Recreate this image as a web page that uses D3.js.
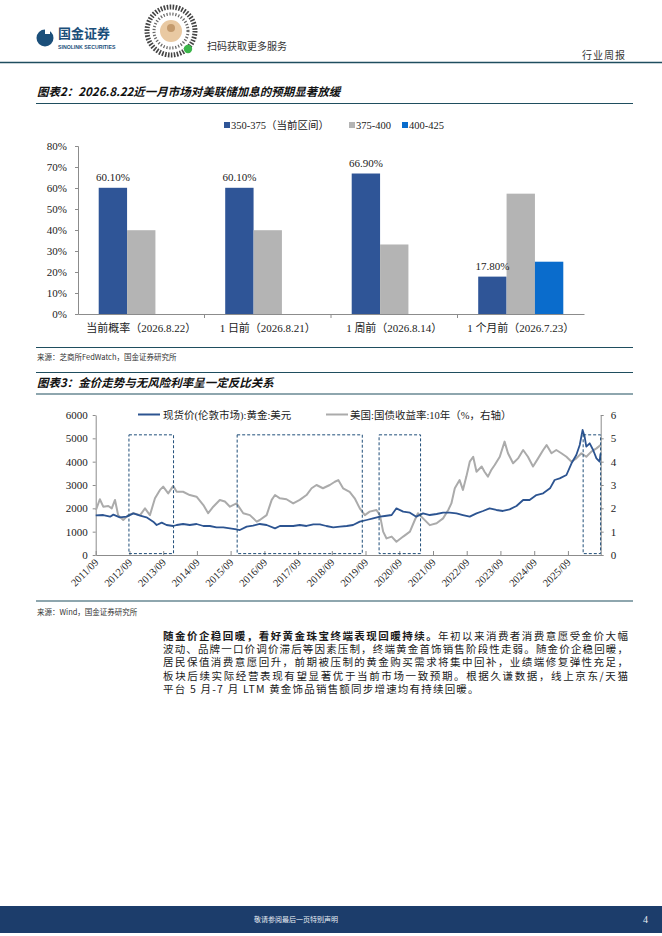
<!DOCTYPE html>
<html lang="zh">
<head>
<meta charset="UTF-8">
<title>行业周报</title>
<script src="https://d3js.org/d3.v7.min.js"></script>
<style>
  body { margin: 0; background: #fff; }
  svg { display: block; }
  text { font-family: "Liberation Serif", "Noto Sans CJK SC", serif; }
  .cjk { font-family: "Noto Sans CJK SC", sans-serif; }
  .sans { font-family: "Liberation Sans", sans-serif; }
  .axis path, .axis line { stroke: #8c8c8c; }
</style>
</head>
<body>
<svg id="page" width="662" height="936"></svg>
<script>
// ---- chart 1 data: CME FedWatch probabilities ----
const rateCats = ["当前概率（2026.8.22）", "1 日前（2026.8.21）", "1 周前（2026.8.14）", "1 个月前（2026.7.23）"];
const rateSeries = ["350-375（当前区间）", "375-400", "400-425"];
const prob350 = [60.1, 60.1, 66.9, 17.8];
const prob375 = [39.9, 39.9, 33.1, 57.3];
const prob400 = [0, 0, 0, 24.9];
const probTicks = [0, 10, 20, 30, 40, 50, 60, 70, 80];

// ---- chart 2 data: gold spot vs US 10y yield ----
const goldSeries = [
  ["2011-09-01",1700],["2011-11-22",1714],["2012-02-04",1643],["2012-03-10",1730],["2012-05-19",1614],
  ["2012-08-01",1643],["2012-10-13",1786],["2012-12-25",1686],["2013-03-04",1614],["2013-05-16",1429],
  ["2013-06-22",1286],["2013-08-16",1386],["2013-10-07",1286],["2013-12-19",1243],["2014-01-25",1286],
  ["2014-04-04",1329],["2014-06-16",1286],["2014-08-28",1329],["2014-11-10",1243],["2015-01-19",1243],
  ["2015-04-01",1186],["2015-06-13",1186],["2015-08-25",1143],["2015-11-04",1100],["2015-12-10",1071],
  ["2016-02-22",1214],["2016-05-01",1257],["2016-07-13",1329],["2016-09-25",1286],["2016-12-25",1143],
  ["2017-02-16",1243],["2017-04-28",1243],["2017-07-10",1243],["2017-09-19",1286],["2017-12-01",1243],
  ["2018-02-13",1314],["2018-04-25",1314],["2018-07-04",1243],["2018-09-16",1186],["2018-11-28",1214],
  ["2019-02-10",1243],["2019-04-19",1286],["2019-07-01",1429],["2019-09-13",1500],["2019-11-22",1571],
  ["2020-02-04",1643],["2020-03-28",1671],["2020-06-10",1714],["2020-08-01",2000],["2020-10-13",1857],
  ["2020-12-25",1814],["2021-03-04",1643],["2021-05-16",1786],["2021-07-28",1714],["2021-10-10",1757],
  ["2021-12-19",1814],["2022-03-01",1814],["2022-05-13",1786],["2022-07-22",1714],["2022-10-04",1643],
  ["2022-12-16",1786],["2023-02-25",1886],["2023-05-07",2000],["2023-07-19",1929],["2023-09-28",1886],
  ["2023-12-10",1957],["2024-02-22",2100],["2024-05-04",2357],["2024-07-13",2357],["2024-09-25",2571],
  ["2024-12-07",2643],["2025-02-19",2857],["2025-04-10",3214],["2025-06-04",3286],["2025-08-16",3429],
  ["2025-10-10",3929],["2025-12-01",4286],["2026-01-07",4714],["2026-02-07",5357],["2026-03-01",5071],
  ["2026-03-19",4643],["2026-04-25",4786],["2026-06-01",4500],["2026-07-07",4143],["2026-08-10",4000],
  ["2026-08-20",4350]
];
const yieldSeries = [
  ["2011-09-04",1.93],["2011-10-16",2.39],["2011-11-22",2.07],["2012-01-16",2.10],["2012-02-22",2.00],
  ["2012-03-28",2.36],["2012-05-01",1.71],["2012-06-25",1.50],["2012-08-19",1.71],["2012-10-13",1.79],
  ["2012-12-25",1.71],["2013-02-16",2.00],["2013-04-10",1.71],["2013-06-04",2.43],["2013-07-28",2.79],
  ["2013-09-01",2.93],["2013-10-25",2.64],["2013-12-19",2.96],["2014-01-25",2.71],["2014-04-04",2.71],
  ["2014-06-16",2.57],["2014-08-28",2.50],["2014-11-10",2.14],["2015-01-01",1.79],["2015-02-25",2.07],
  ["2015-05-07",2.36],["2015-07-01",2.29],["2015-08-25",2.07],["2015-11-04",2.21],["2016-01-16",1.79],
  ["2016-03-28",1.71],["2016-06-10",1.43],["2016-07-13",1.50],["2016-09-25",1.71],["2016-11-19",2.36],
  ["2016-12-25",2.57],["2017-02-16",2.43],["2017-04-28",2.39],["2017-07-10",2.21],["2017-09-19",2.36],
  ["2017-12-01",2.57],["2018-01-25",2.86],["2018-03-19",3.00],["2018-05-28",2.86],["2018-08-10",3.00],
  ["2018-10-04",3.14],["2018-11-10",3.21],["2019-01-01",2.86],["2019-03-13",2.71],["2019-05-07",2.43],
  ["2019-07-01",2.00],["2019-08-25",1.71],["2019-10-16",1.86],["2019-12-28",1.93],["2020-02-04",1.71],
  ["2020-03-10",1.00],["2020-04-16",0.71],["2020-06-10",0.79],["2020-08-01",0.57],["2020-10-13",0.79],
  ["2020-12-25",1.00],["2021-02-16",1.50],["2021-03-22",1.79],["2021-05-16",1.57],["2021-07-28",1.28],
  ["2021-10-10",1.36],["2021-12-19",1.57],["2022-02-13",1.93],["2022-03-19",2.21],["2022-04-25",2.86],
  ["2022-06-16",3.21],["2022-07-22",2.79],["2022-08-28",3.36],["2022-10-04",4.00],["2022-11-10",4.21],
  ["2022-12-16",3.57],["2023-02-10",3.79],["2023-03-13",3.57],["2023-04-19",3.36],["2023-05-25",3.64],
  ["2023-07-01",3.86],["2023-08-25",4.21],["2023-10-16",4.86],["2023-11-22",4.36],["2024-01-16",3.93],
  ["2024-03-10",4.14],["2024-05-04",4.50],["2024-06-25",4.21],["2024-08-19",3.79],["2024-10-13",4.14],
  ["2024-12-07",4.50],["2025-01-13",4.71],["2025-03-07",4.36],["2025-04-28",4.50],["2025-06-22",4.36],
  ["2025-08-16",4.21],["2025-10-10",4.00],["2025-12-01",4.14],["2026-01-25",4.36],["2026-03-19",4.21],
  ["2026-05-13",4.43],["2026-07-07",4.57],["2026-08-20",4.71]
];
const highlightSpans = [
  ["2012-08-26","2013-12-22"], ["2015-11-11","2019-07-28"],
  ["2020-01-26","2021-04-19"], ["2026-02-13","2026-08-21"]
];
const highlightRange = [60, 5150];
const tickYears = d3.range(2011, 2026);
const goldTicks = [0, 1000, 2000, 3000, 4000, 5000, 6000];
const yieldTicks = [0, 1, 2, 3, 4, 5, 6];
const goldLabel = "现货价(伦敦市场):黄金:美元";
const yieldLabel = "美国:国债收益率:10年（%，右轴）";

const paraLines = [
  [["随金价企稳回暖，看好黄金珠宝终端表现回暖持续。", true], ["年初以来消费者消费意愿受金价大幅", false]],
  [["波动、品牌一口价调价滞后等因素压制，终端黄金首饰销售阶段性走弱。随金价企稳回暖，", false]],
  [["居民保值消费意愿回升，前期被压制的黄金购买需求将集中回补，业绩端修复弹性充足，", false]],
  [["板块后续实际经营表现有望显著优于当前市场一致预期。根据久谦数据，线上京东/天猫", false]],
  [["平台 5 月-7 月 LTM 黄金饰品销售额同步增速均有持续回暖。", false]]
];

const svg = d3.select("#page");
const rule = "#1f4e5f";
const navy = "#2f5597", grey = "#b4b4b4", blue = "#0a6ccc";
const parseDay = d3.timeParse("%Y-%m-%d");

// ---------- page header ----------
svg.append("circle").attr("cx", 45).attr("cy", 38).attr("r", 8.5).attr("fill", "#1b4f7a");
svg.append("rect").attr("x", 45).attr("y", 28).attr("width", 5).attr("height", 6).attr("fill", "#fff");
svg.append("text").attr("class", "cjk").attr("x", 58).attr("y", 38).attr("font-size", 13)
  .attr("font-weight", "bold").attr("fill", "#1b4f7a").text("国金证券");
svg.append("text").attr("class", "sans").attr("x", 58).attr("y", 48.5).attr("font-size", 5.2)
  .attr("font-weight", "bold").attr("fill", "#1b4f7a").text("SINOLINK SECURITIES");

// QR badge (decorative)
const qr = svg.append("g").attr("transform", "translate(171,31)");
qr.append("circle").attr("r", 24).attr("fill", "none").attr("stroke", "#444").attr("stroke-width", 5).attr("stroke-dasharray", "1.6,1.4");
qr.append("circle").attr("r", 17).attr("fill", "none").attr("stroke", "#666").attr("stroke-width", 3).attr("stroke-dasharray", "1.2,1.8");
qr.append("circle").attr("r", 11).attr("fill", "#e9c9a2");
qr.append("circle").attr("r", 4).attr("cy", -3).attr("fill", "#c49a6c");
qr.append("circle").attr("cx", 17).attr("cy", 18).attr("r", 4.2).attr("fill", "#3bb54a");

svg.append("text").attr("class", "cjk").attr("x", 207).attr("y", 50).attr("font-size", 10)
  .attr("fill", "#333").text("扫码获取更多服务");
svg.append("text").attr("class", "cjk").attr("x", 626).attr("y", 59).attr("font-size", 10)
  .attr("text-anchor", "end").attr("fill", "#333").attr("letter-spacing", 1).text("行业周报");
svg.append("line").attr("x1", 0).attr("x2", 662).attr("y1", 62.5).attr("y2", 62.5)
  .attr("stroke", rule).attr("stroke-width", 1.5);

function hline(y, w) {
  svg.append("line").attr("x1", 36).attr("x2", 633).attr("y1", y).attr("y2", y)
    .attr("stroke", rule).attr("stroke-width", w || 1.2);
}
function title(y, s) {
  svg.append("text").attr("class", "cjk").attr("x", 37).attr("y", y).attr("font-size", 11.5)
    .attr("font-weight", "bold").attr("font-style", "italic").attr("fill", "#111").text(s);
}
function source(y, s) {
  svg.append("text").attr("class", "cjk").attr("x", 37).attr("y", y).attr("font-size", 7.5)
    .attr("fill", "#333").text(s);
}

// ---------- chart 1 ----------
title(96, "图表2：2026.8.22近一月市场对美联储加息的预期显著放缓");
hline(103.5);

const x1 = d3.scaleBand().domain(rateCats).range([78, 584]).padding(0);
const xs = d3.scaleBand().domain([0, 1, 2]).range([0, x1.bandwidth()]).paddingOuter(0.73);
const y1 = d3.scaleLinear().domain([0, 80]).range([314, 146]);
const seriesVals = [prob350, prob375, prob400];
const seriesColors = [navy, grey, blue];

svg.append("g").attr("class", "axis").attr("transform", "translate(78,0)")
  .call(d3.axisLeft(y1).tickValues(probTicks).tickSize(3).tickPadding(8).tickFormat(d => d + "%"))
  .call(g => g.selectAll("text").attr("font-size", 11).attr("fill", "#222"));

const bars = svg.append("g");
seriesVals.forEach((vals, si) => {
  bars.selectAll(null).data(rateCats.map((c, i) => ({ c, v: vals[i] })).filter(d => d.v > 0))
    .enter().append("rect")
    .attr("x", d => x1(d.c) + xs(si))
    .attr("width", xs.bandwidth())
    .attr("y", d => y1(d.v))
    .attr("height", d => y1(0) - y1(d.v))
    .attr("fill", seriesColors[si]);
});
bars.selectAll(null).data(rateCats.map((c, i) => ({ c, v: prob350[i] })))
  .enter().append("text")
  .attr("x", d => x1(d.c) + xs(0) + xs.bandwidth() / 2)
  .attr("y", d => y1(d.v) - 7)
  .attr("text-anchor", "middle").attr("font-size", 11).attr("fill", "#222")
  .text(d => d.v.toFixed(2) + "%");

svg.append("g").attr("class", "axis").attr("transform", `translate(0,${y1(0)})`)
  .call(d3.axisBottom(x1).tickSize(0).tickPadding(10))
  .call(g => g.selectAll("text").attr("font-size", 11).attr("fill", "#222"))
  .call(g => g.selectAll(".sep").data(rateCats.slice(1)).enter().append("line").attr("class", "sep")
    .attr("x1", d => x1(d)).attr("x2", d => x1(d)).attr("y1", 0).attr("y2", 4).attr("stroke", "#8c8c8c"));

const leg1 = svg.append("g");
const leg1X = [224, 349, 402];
rateSeries.forEach((s, i) => {
  leg1.append("rect").attr("x", leg1X[i]).attr("y", 122).attr("width", 6).attr("height", 6).attr("fill", seriesColors[i]);
  leg1.append("text").attr("x", leg1X[i] + 7).attr("y", 129).attr("font-size", 10.5).attr("fill", "#222").text(s);
});

hline(347.5);
source(360, "来源：芝商所FedWatch，国金证券研究所");
hline(372.5);
title(387, "图表3：金价走势与无风险利率呈一定反比关系");
hline(394);

// ---------- chart 2 ----------
const gold = goldSeries.map(d => ({ date: parseDay(d[0]), v: d[1] }));
const yld = yieldSeries.map(d => ({ date: parseDay(d[0]), v: d[1] }));
const x2 = d3.scaleTime().domain([new Date(2011, 8, 1), new Date(2026, 7, 22)]).range([95.7, 600.7]);
const yL = d3.scaleLinear().domain([0, 6000]).range([555, 415]);
const yR = d3.scaleLinear().domain([0, 6]).range([555, 415]);

svg.append("g").attr("class", "axis").attr("transform", "translate(95.7,0)")
  .call(d3.axisLeft(yL).tickValues(goldTicks).tickSize(3).tickSizeOuter(0).tickPadding(5).tickFormat(d3.format("d")))
  .call(g => g.selectAll("text").attr("font-size", 11).attr("fill", "#222"));
svg.append("g").attr("class", "axis").attr("transform", "translate(600.7,0)")
  .call(d3.axisRight(yR).tickValues(yieldTicks).tickSize(3).tickSizeOuter(0).tickPadding(7).tickFormat(d3.format("d")))
  .call(g => g.selectAll("text").attr("font-size", 11).attr("fill", "#222"));
const xAx = svg.append("g").attr("class", "axis").attr("transform", "translate(0,555)")
  .call(d3.axisBottom(x2).tickValues(tickYears.map(y => new Date(y, 8, 1)))
    .tickSize(-4).tickSizeOuter(0).tickFormat(d3.timeFormat("%Y/%m")));
xAx.selectAll("text").attr("font-size", 10.5).attr("fill", "#222")
  .attr("text-anchor", "end").attr("dy", null).attr("y", 0)
  .attr("transform", "translate(3,8) rotate(-45)");

svg.append("path").datum(yld)
  .attr("d", d3.line().x(d => x2(d.date)).y(d => yR(d.v)))
  .attr("fill", "none").attr("stroke", "#ababab").attr("stroke-width", 2).attr("stroke-linejoin", "round");
svg.append("path").datum(gold)
  .attr("d", d3.line().x(d => x2(d.date)).y(d => yL(d.v)))
  .attr("fill", "none").attr("stroke", "#2c5491").attr("stroke-width", 1.8).attr("stroke-linejoin", "round");

svg.append("g").selectAll("rect").data(highlightSpans).enter().append("rect")
  .attr("x", d => x2(parseDay(d[0])))
  .attr("width", d => x2(parseDay(d[1])) - x2(parseDay(d[0])))
  .attr("y", yL(highlightRange[1]))
  .attr("height", yL(highlightRange[0]) - yL(highlightRange[1]))
  .attr("fill", "none").attr("stroke", "#1f4e79").attr("stroke-width", 1).attr("stroke-dasharray", "3,2");

const leg2 = svg.append("g");
leg2.append("line").attr("x1", 138).attr("x2", 160).attr("y1", 414.5).attr("y2", 414.5).attr("stroke", "#2c5491").attr("stroke-width", 2);
leg2.append("text").attr("x", 163).attr("y", 418.5).attr("font-size", 10.5).attr("fill", "#222").text(goldLabel);
leg2.append("line").attr("x1", 326).attr("x2", 348).attr("y1", 414.5).attr("y2", 414.5).attr("stroke", "#ababab").attr("stroke-width", 2);
leg2.append("text").attr("x", 350).attr("y", 418.5).attr("font-size", 10.5).attr("fill", "#222").text(yieldLabel);

hline(601);
source(615, "来源：Wind，国金证券研究所");

// ---------- paragraph ----------
const paraTop = 640, paraStep = 13.2;
paraLines.forEach((parts, i) => {
  const t = svg.append("text").attr("class", "cjk").attr("x", 163).attr("y", paraTop + i * paraStep)
    .attr("font-size", 10.5).attr("fill", "#1a1a1a");
  if (i < paraLines.length - 1) t.attr("textLength", 465).attr("lengthAdjust", "spacing");
  else t.attr("letter-spacing", 1.2);
  parts.forEach(p => t.append("tspan").attr("font-weight", p[1] ? "bold" : "normal").text(p[0]));
});

// ---------- footer ----------
svg.append("rect").attr("x", 0).attr("y", 906).attr("width", 662).attr("height", 27).attr("fill", "#1c3d6b");
svg.append("text").attr("class", "cjk").attr("x", 296).attr("y", 922).attr("text-anchor", "middle")
  .attr("font-size", 7).attr("fill", "#e8edf4").text("敬请参阅最后一页特别声明");
svg.append("text").attr("x", 643).attr("y", 923).attr("font-size", 10).attr("fill", "#e8edf4").text("4");
</script>
</body>
</html>
